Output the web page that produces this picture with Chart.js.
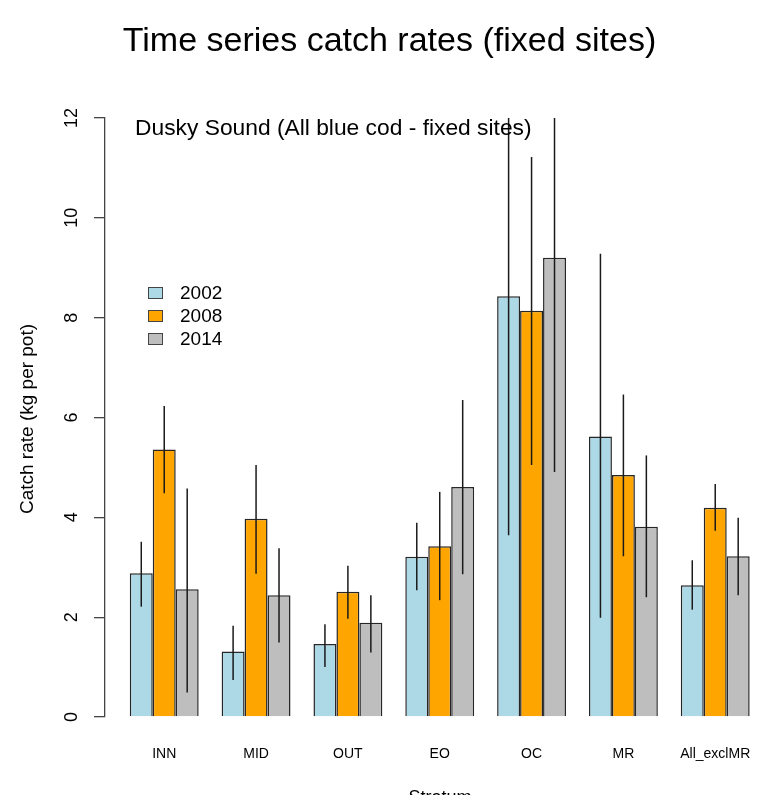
<!DOCTYPE html>
<html>
<head>
<meta charset="utf-8">
<script src="https://cdn.jsdelivr.net/npm/chart.js@4"></script>
<style>
html,body{margin:0;padding:0;background:#fff;overflow:hidden;}
#wrap{width:760px;height:795px;position:relative;}
</style>
</head>
<body>
<div id="wrap"><canvas id="c" width="760" height="795"></canvas></div>
<script>
const categories = ["INN","MID","OUT","EO","OC","MR","All_exclMR"];
const seriesNames = ["2002","2008","2014"];
const rate2002 = [2.88, 1.31, 1.46, 3.21, 8.43, 5.62, 2.64];
const rate2008 = [5.36, 3.97, 2.51, 3.42, 8.14, 4.85, 4.19];
const rate2014 = [2.56, 2.44, 1.89, 4.61, 9.20, 3.81, 3.22];
const lower2002 = [2.21, 0.74, 1.00, 2.54, 3.64, 1.99, 2.15];
const upper2002 = [3.51, 1.83, 1.86, 3.89, 13.2, 9.28, 3.14];
const lower2008 = [4.48, 2.87, 1.97, 2.34, 5.05, 3.22, 3.73];
const upper2008 = [6.23, 5.05, 3.03, 4.51, 11.22, 6.46, 4.67];
const lower2014 = [0.49, 1.49, 1.29, 2.86, 4.91, 2.40, 2.44];
const upper2014 = [4.58, 3.38, 2.44, 6.35, 13.5, 5.24, 3.99];
const yTicks = [0, 2, 4, 6, 8, 10, 12];
const colors = ["#ADD8E6", "#FFA500", "#BEBEBE"];

const FONT = '"Liberation Sans", Arial, Helvetica, sans-serif';
const pos = i => 4 * i + 2.5;
const values = [rate2002, rate2008, rate2014];
const lows = [lower2002, lower2008, lower2014];
const highs = [upper2002, upper2008, upper2014];

const datasets = seriesNames.map((name, s) => ({
  label: name,
  data: categories.map((c, i) => ({x: pos(i), y: values[s][i]})),
  backgroundColor: colors[s],
  borderColor: "#262626",
  borderWidth: 1.5,
  categoryPercentage: 0.75,
  barPercentage: 1.0,
  lows: lows[s],
  highs: highs[s]
}));

const decor = {
  id: "decor",
  afterDatasetsDraw(chart) {
    const ctx = chart.ctx;
    const ca = chart.chartArea;
    const y = chart.scales.y;
    ctx.save();
    ctx.beginPath();
    ctx.rect(ca.left, ca.top, ca.right - ca.left, ca.bottom - ca.top);
    ctx.clip();
    ctx.strokeStyle = "#1a1a1a";
    ctx.lineWidth = 1.5;
    chart.data.datasets.forEach((ds, s) => {
      const meta = chart.getDatasetMeta(s);
      meta.data.forEach((bar, i) => {
        ctx.beginPath();
        ctx.moveTo(bar.x, y.getPixelForValue(ds.lows[i]));
        ctx.lineTo(bar.x, y.getPixelForValue(ds.highs[i]));
        ctx.stroke();
      });
    });
    ctx.restore();
  },
  afterDraw(chart) {
    const ctx = chart.ctx;
    const y = chart.scales.y;
    ctx.save();
    ctx.fillStyle = "#000";
    ctx.font = "34px " + FONT;
    ctx.textAlign = "center";
    ctx.textBaseline = "alphabetic";
    ctx.fillText("Time series catch rates (fixed sites)", 389.5, 51);
    ctx.font = "22.8px " + FONT;
    ctx.textAlign = "left";
    ctx.textBaseline = "middle";
    ctx.fillText("Dusky Sound (All blue cod - fixed sites)", 135, 129);
    ctx.font = "19px " + FONT;
    chart.data.datasets.forEach((ds, s) => {
      const cy = 293 + s * 23;
      ctx.fillStyle = ds.backgroundColor;
      ctx.fillRect(148, cy - 6, 15, 12);
      ctx.strokeStyle = "#444";
      ctx.lineWidth = 1;
      ctx.strokeRect(148.5, cy - 5.5, 14, 11);
      ctx.fillStyle = "#000";
      ctx.fillText(ds.label, 180, cy + 1);
    });
    ctx.font = "18px " + FONT;
    ctx.textAlign = "center";
    ctx.textBaseline = "middle";
    yTicks.forEach(v => {
      ctx.save();
      ctx.translate(72, y.getPixelForValue(v));
      ctx.rotate(-Math.PI / 2);
      ctx.fillText(String(v), 0, 0);
      ctx.restore();
    });
    ctx.save();
    ctx.translate(28, 419);
    ctx.rotate(-Math.PI / 2);
    ctx.font = "19px " + FONT;
    ctx.fillText("Catch rate (kg per pot)", 0, 0);
    ctx.restore();
    ctx.font = "18px " + FONT;
    ctx.textAlign = "center";
    ctx.textBaseline = "top";
    ctx.fillText("Stratum", 440, 789);
    ctx.restore();
  }
};

new Chart(document.getElementById("c"), {
  type: "bar",
  data: { datasets },
  plugins: [decor],
  options: {
    responsive: false,
    animation: false,
    devicePixelRatio: 1,
    layout: { autoPadding: false, padding: { top: 118, left: 0, right: 0, bottom: 0 } },
    plugins: { legend: { display: false }, tooltip: { enabled: false }, title: { display: false } },
    scales: {
      x: {
        type: "linear",
        min: -0.08,
        max: 28.45,
        offset: false,
        grid: { display: false, drawTicks: false },
        border: { display: false },
        afterBuildTicks: scale => { scale.ticks = categories.map((c, i) => ({ value: pos(i) })); },
        afterFit: scale => { scale.height = 78; scale.paddingLeft = 0; scale.paddingRight = 0; },
        ticks: {
          autoSkip: false,
          maxRotation: 0,
          minRotation: 0,
          padding: 29,
          color: "#000",
          font: { family: FONT, size: 14 },
          callback: v => categories[Math.round((v - 2.5) / 4)]
        }
      },
      y: {
        min: 0,
        max: 12,
        afterBuildTicks: scale => { scale.ticks = yTicks.map(v => ({ value: v })); },
        afterFit: scale => { scale.width = 105; scale.paddingTop = 0; scale.paddingBottom = 0; },
        grid: { display: true, drawOnChartArea: false, drawTicks: true, tickLength: 11, color: "#444", lineWidth: 1.3 },
        border: { display: true, color: "#444", width: 1.3 },
        ticks: { display: false }
      }
    }
  }
});
</script>
</body>
</html>
